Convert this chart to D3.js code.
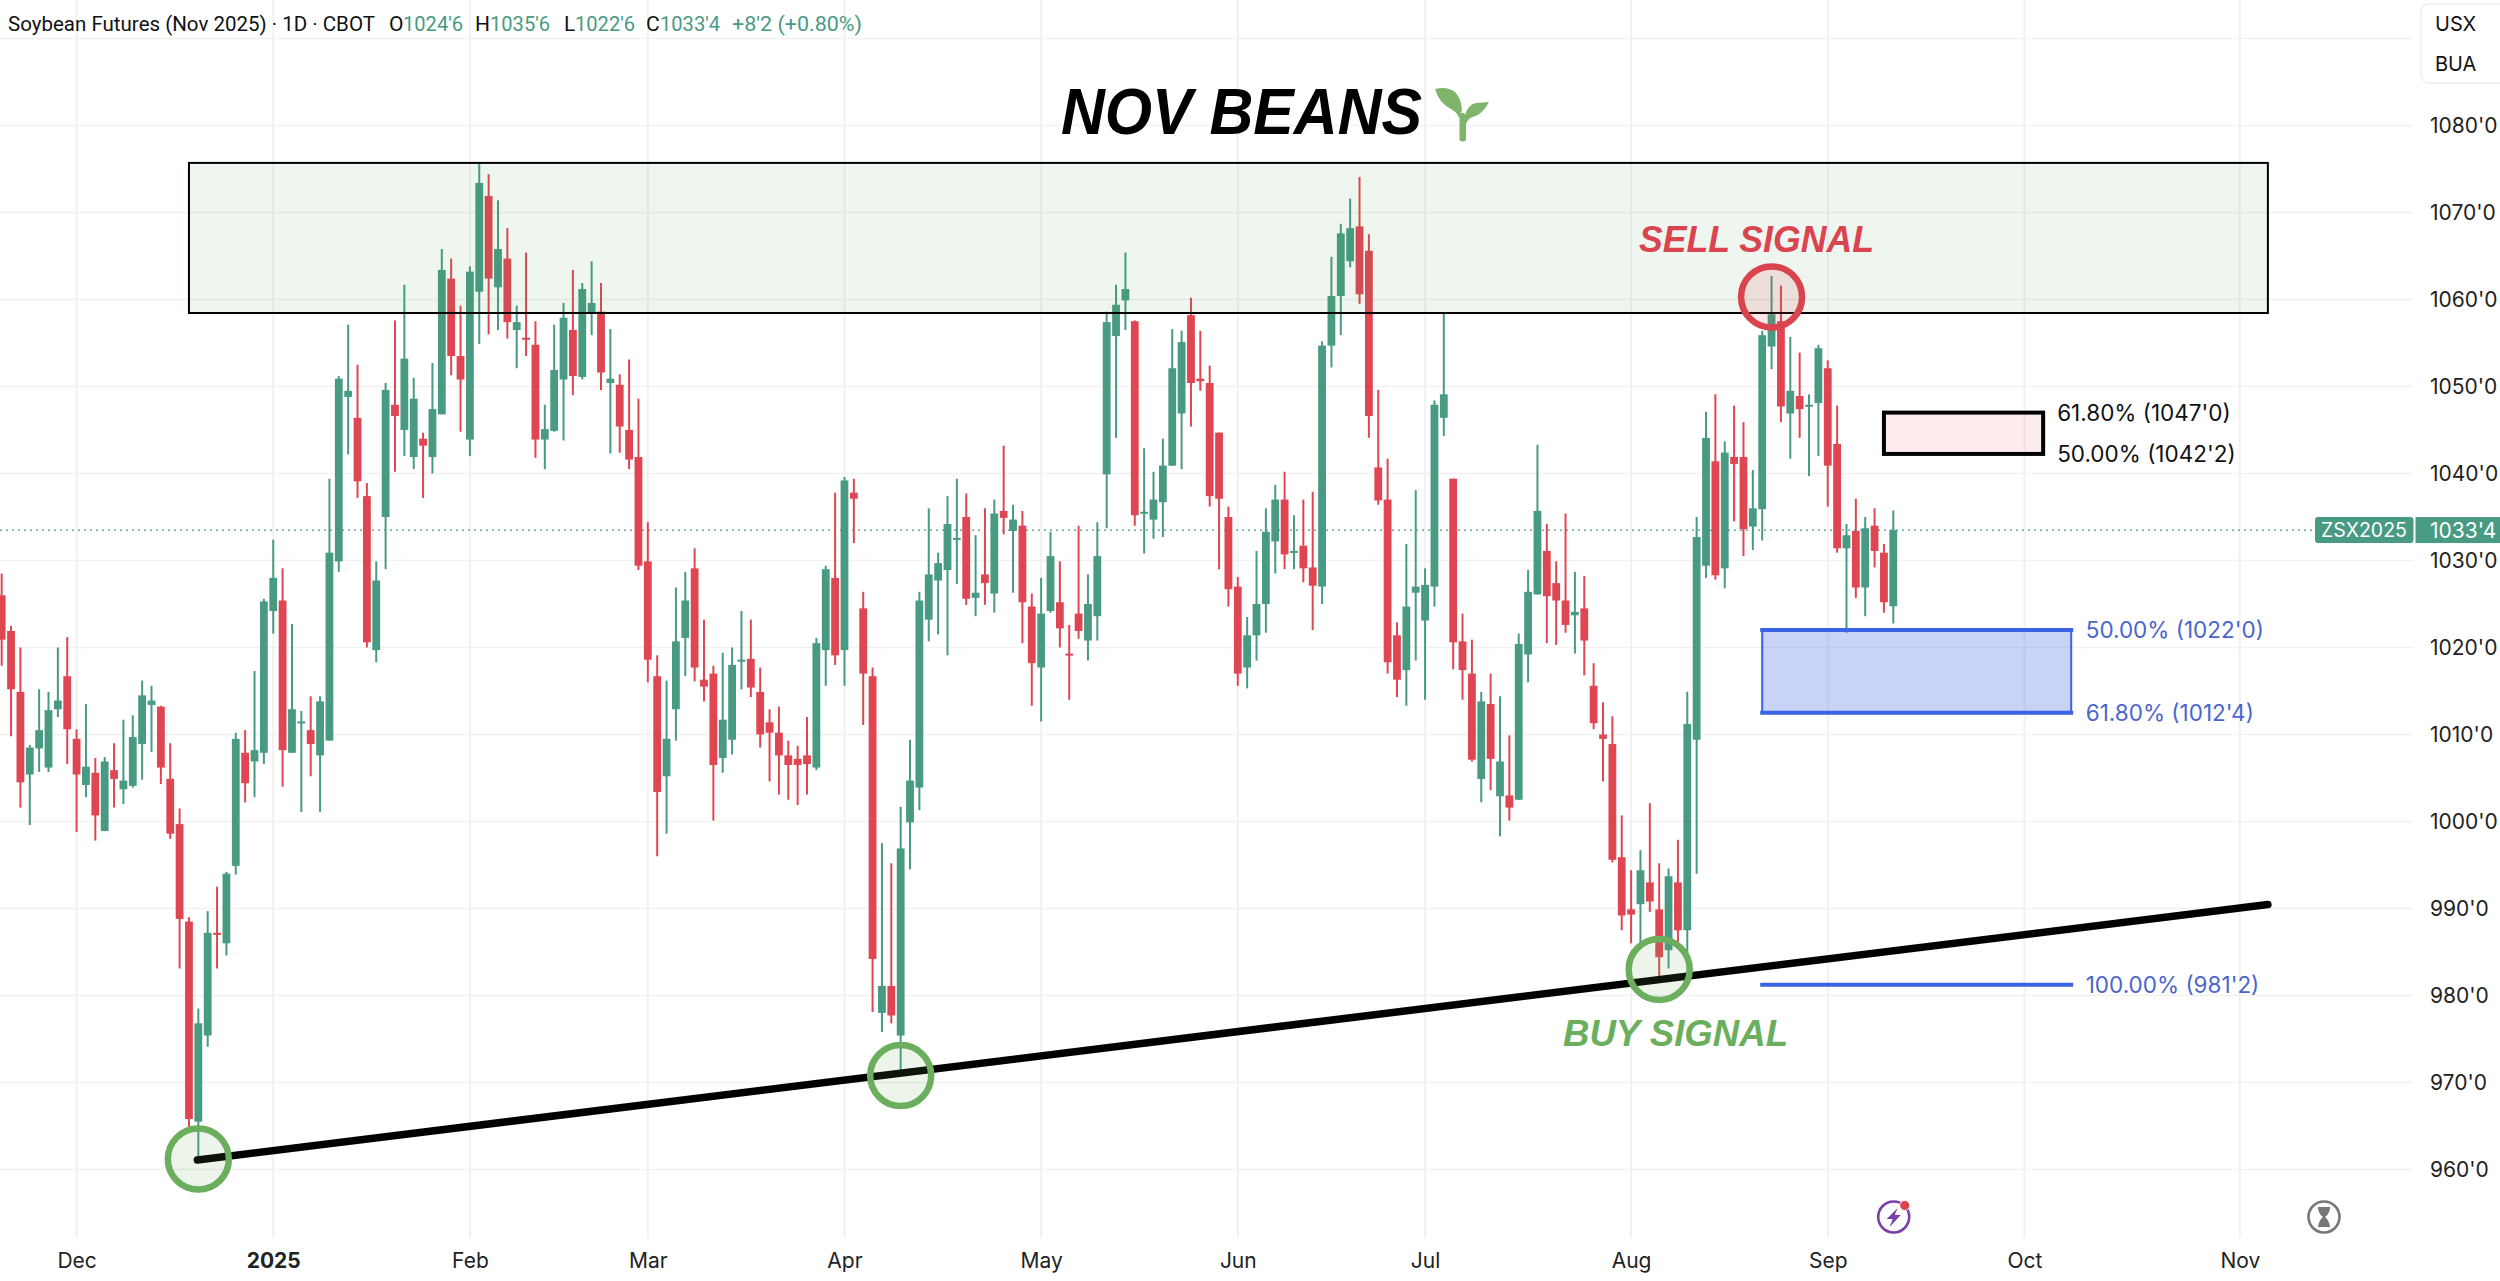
<!DOCTYPE html>
<html><head><meta charset="utf-8">
<script src="https://cdn.jsdelivr.net/npm/d3@7"></script>
<style>html,body{margin:0;padding:0;background:#fff}svg{display:block}text{font-family:Inter,"Noto Sans",sans-serif}</style>
</head><body><div id="chart"></div>
<script>
const highs=[1028.5,1022.5,1020.0,1008.8,1015.2,1014.9,1020.0,1021.2,1010.6,1013.5,
1007.3,1007.4,1009.0,1011.7,1012.2,1016.2,1015.6,1013.3,1009.0,1001.5,
989.0,978.5,989.7,992.5,994.2,1010.2,1010.5,1017.3,1025.6,1032.4,
1029.1,1022.7,1012.7,1014.4,1014.4,1039.4,1051.2,1057.1,1052.5,1038.9,
1029.9,1050.4,1057.6,1061.7,1051.0,1044.7,1052.7,1065.8,1064.7,1059.3,
1063.8,1075.6,1074.4,1071.4,1068.2,1059.3,1065.4,1057.5,1047.9,1057.1,
1059.6,1063.4,1061.9,1064.4,1061.9,1056.6,1051.4,1053.1,1048.6,1034.4,
1019.1,1016.2,1026.9,1028.7,1031.4,1023.2,1017.9,1019.4,1020.0,1024.2,
1023.2,1017.7,1012.9,1013.2,1009.3,1008.7,1012.0,1021.1,1029.4,1037.8,
1039.6,1039.4,1026.4,1017.7,997.5,995.2,1001.7,1009.4,1026.4,1036.0,
1030.9,1037.4,1039.4,1037.7,1032.9,1036.0,1037.0,1043.2,1036.4,1035.7,
1026.2,1028.0,1033.3,1029.9,1022.6,1034.0,1028.4,1034.4,1058.6,1061.7,
1065.4,1057.6,1042.9,1040.2,1044.0,1056.6,1056.4,1060.2,1056.4,1052.4,
1044.7,1036.2,1028.1,1023.5,1031.1,1036.0,1038.7,1040.2,1035.2,1037.0,
1037.9,1055.2,1064.9,1068.7,1071.6,1074.1,1067.5,1049.6,1041.7,1022.9,
1031.9,1038.1,1029.1,1048.4,1058.5,1039.4,1023.9,1020.9,1014.9,1017.0,
1014.4,1009.9,1021.6,1028.9,1043.3,1034.2,1029.9,1035.4,1028.7,1028.2,
1018.2,1013.7,1012.1,1000.7,994.4,996.7,1002.1,995.2,994.6,997.9,
1014.9,1035.0,1047.1,1049.1,1043.7,1047.8,1045.9,1040.4,1056.4,1062.7,
1061.6,1055.7,1053.9,1049.1,1054.8,1053.0,1047.8,1034.2,1037.1,1035.0,
1036.0,1031.9,1035.75];
const lows=[1017.9,1009.8,1001.6,999.6,1005.7,1005.7,1012.0,1006.6,998.8,1002.8,
997.8,998.9,1001.6,1002.0,1003.9,1004.8,1008.0,1004.3,998.0,983.1,
964.8,961.3,974.1,983.1,984.6,993.9,1002.2,1002.8,1006.6,1021.6,
1004.0,1007.9,1001.1,1005.2,1001.1,1009.3,1028.7,1042.2,1037.2,1020.0,
1018.3,1029.0,1040.2,1042.0,1040.5,1037.2,1040.0,1046.8,1051.3,1044.8,
1042.0,1054.9,1056.0,1056.5,1055.5,1052.1,1053.5,1041.8,1040.5,1044.8,
1043.8,1049.0,1050.8,1055.9,1049.6,1042.3,1042.4,1040.5,1028.9,1016.0,
996.0,998.6,1009.3,1016.7,1016.1,1013.8,1000.1,1005.6,1007.7,1015.2,
1014.3,1008.5,1004.6,1003.1,1002.5,1001.9,1003.1,1005.9,1015.6,1018.0,
1015.6,1032.0,1011.1,978.1,975.8,976.8,971.3,994.5,1001.3,1020.7,
1021.5,1019.1,1027.3,1024.9,1023.6,1024.9,1024.0,1033.0,1026.3,1020.5,
1013.3,1011.5,1024.0,1020.0,1014.0,1021.0,1018.5,1020.8,1033.7,1044.1,
1056.5,1034.0,1030.8,1032.5,1032.7,1040.9,1040.5,1045.4,1049.5,1036.2,
1029.0,1024.7,1015.6,1015.3,1018.5,1021.7,1028.5,1029.0,1029.0,1027.5,
1022.0,1025.0,1052.2,1055.9,1063.7,1059.5,1044.1,1036.4,1017.0,1014.3,
1013.3,1018.5,1014.0,1024.7,1044.3,1017.5,1014.0,1006.9,1002.2,1003.6,
998.3,1000.1,1002.5,1016.0,1026.1,1020.5,1020.3,1021.7,1019.3,1016.8,
1010.6,1004.6,995.3,987.5,986.0,986.1,989.6,981.5,983.1,986.1,
984.4,994.0,1028.0,1027.8,1026.8,1034.5,1030.5,1031.2,1032.3,1052.0,
1045.9,1041.7,1044.1,1039.7,1042.0,1036.2,1030.9,1021.7,1025.7,1023.6,
1029.2,1024.0,1022.75];
const opens=[1026.0,1021.9,1014.9,1005.4,1008.4,1006.2,1012.9,1016.7,1009.5,1004.2,
1005.6,998.9,1005.9,1003.7,1004.1,1008.9,1013.4,1013.2,1004.9,999.7,
988.5,965.5,975.4,987.2,986.0,994.9,1007.9,1006.9,1007.9,1024.2,
1025.4,1007.9,1011.4,1010.5,1007.6,1009.3,1029.9,1048.8,1046.4,1037.4,
1019.7,1035.0,1047.9,1045.0,1041.9,1044.0,1041.9,1046.8,1062.4,1053.5,
1043.9,1060.9,1071.9,1061.4,1064.7,1056.5,1055.6,1054.8,1043.9,1044.9,
1050.8,1056.5,1051.1,1058.5,1058.6,1050.4,1050.2,1045.0,1041.9,1029.9,
1016.7,1005.2,1012.9,1021.1,1029.1,1016.3,1017.0,1007.3,1009.4,1018.4,
1018.7,1014.9,1011.4,1010.2,1007.6,1007.2,1007.6,1006.2,1019.7,1028.0,
1019.7,1037.8,1024.5,1016.7,978.0,981.1,975.4,999.9,1003.9,1023.2,
1027.7,1028.9,1032.4,1035.0,1025.7,1028.4,1026.2,1035.7,1033.4,1034.0,
1024.7,1017.7,1024.2,1025.2,1019.3,1023.9,1020.8,1023.6,1039.9,1055.8,
1059.9,1057.5,1035.4,1034.7,1036.7,1040.9,1046.9,1058.2,1050.9,1050.4,
1044.7,1035.0,1027.0,1017.7,1021.4,1025.0,1032.2,1037.0,1031.0,1031.7,
1029.2,1027.0,1054.7,1060.4,1064.4,1068.4,1065.6,1040.7,1037.0,1021.4,
1017.4,1026.3,1023.1,1027.0,1046.4,1039.4,1020.7,1017.0,1004.9,1013.5,
1002.9,1003.0,1002.5,1019.2,1026.1,1031.1,1027.4,1025.4,1023.7,1024.5,
1015.6,1010.0,1008.9,995.9,989.9,990.5,993.0,989.9,985.2,993.0,
987.5,1009.4,1029.4,1041.4,1029.1,1041.9,1041.9,1033.9,1035.9,1054.6,
1057.5,1046.9,1048.9,1047.8,1048.1,1052.1,1043.4,1031.4,1033.4,1026.9,
1034.0,1030.9,1024.75];
const closes=[1020.9,1015.2,1004.5,1008.5,1010.5,1012.8,1013.9,1010.6,1005.4,1006.3,
1000.7,1006.9,1004.9,1004.7,1009.7,1014.5,1013.9,1006.2,998.6,988.8,
965.8,976.8,987.2,987.0,994.0,1009.5,1004.4,1008.2,1025.3,1028.0,
1008.2,1012.9,1011.5,1008.9,1013.8,1030.9,1050.9,1049.5,1039.1,1020.6,
1027.7,1049.6,1046.6,1053.2,1048.6,1043.2,1047.4,1063.4,1053.5,1050.8,
1063.2,1073.4,1062.4,1065.8,1057.4,1057.4,1055.5,1043.9,1045.1,1051.9,
1057.9,1051.2,1061.2,1059.6,1051.6,1050.9,1045.4,1041.6,1029.4,1018.6,
1003.4,1009.5,1020.7,1025.4,1017.7,1015.5,1006.5,1011.7,1018.0,1018.6,
1015.4,1010.0,1010.2,1007.6,1006.5,1006.5,1006.6,1020.5,1029.0,1019.1,
1039.2,1037.1,1017.0,984.2,981.1,977.7,996.9,1004.7,1025.4,1028.4,
1029.7,1034.2,1032.6,1025.6,1026.3,1027.4,1035.4,1034.9,1034.7,1025.2,
1018.2,1023.9,1030.5,1022.2,1019.2,1021.9,1025.0,1030.5,1057.4,1059.4,
1061.2,1035.2,1035.6,1037.0,1040.9,1052.1,1055.1,1050.4,1050.6,1037.4,
1037.1,1026.7,1017.0,1021.4,1025.0,1033.3,1037.0,1030.7,1031.1,1029.1,
1027.1,1054.7,1060.4,1067.6,1068.2,1060.6,1046.6,1036.9,1018.3,1016.3,
1024.7,1027.0,1027.2,1047.9,1049.1,1020.6,1017.4,1007.1,1013.8,1007.2,
1006.9,1001.6,1020.4,1026.4,1035.7,1025.9,1025.4,1022.6,1024.1,1020.8,
1011.3,1009.5,995.6,989.2,989.3,994.4,990.8,984.4,993.7,987.5,
1011.2,1032.7,1044.1,1028.3,1042.4,1041.1,1033.6,1036.0,1055.9,1058.3,
1047.7,1049.5,1047.4,1047.9,1054.4,1040.9,1031.4,1032.9,1026.9,1033.7,
1031.1,1025.2,1033.5];
const priceTicks=[1080,1070,1060,1050,1040,1030,1020,1010,1000,990,980,970,960];
const gridPrices=[1090,1080,1070,1060,1050,1040,1030,1020,1010,1000,990,980,970,960];
const monthBars=[8,29,50,69,90,111,132,152,174,195,216,239];
const monthLabels=["Dec","2025","Feb","Mar","Apr","May","Jun","Jul","Aug","Sep","Oct","Nov"];
const zoneBars=[20,242], zonePrices=[1075.7,1058.45];
const trendBars=[20.9,242], trendPrices=[961.1,990.45];
const signalBars=[21,96,177,189], signalPrices=[961.2,970.8,983,1060.3], signalKinds=["buy","buy","buy","sell"];
const lastPrice=1033.5, lastPriceLabel="1033'4", symbolLabel="ZSX2025";
const sellFibBars=[201,218], sellFibPrices=[1047,1042.25], sellFibLabels=["61.80% (1047'0)","50.00% (1042'2)"];
const buyFibBars=[188,221], buyFibPrices=[1022,1012.5,981.25], buyFibLabels=["50.00% (1022'0)","61.80% (1012'4)","100.00% (981'2)"];
const legendTexts=["Soybean Futures (Nov 2025) · 1D · CBOT","O","1024'6","H","1035'6","L","1022'6","C","1033'4","+8'2 (+0.80%)"];
const legendGreen=[false,false,true,false,true,false,true,false,true,true];

const W=2500,H=1281,paneR=2413.5,paneB=1238;
const legendX=[8,389,403,475,490,564,575,646,660,732];
const legendLen=[367,null,60,null,60,null,60,null,60,130];
const GREEN="#489a82",RED="#df4652",SIGG="#6aae5e",SIGR="#d9444f",BLUE="#3a62e2",BLUET="#4a66cc";
const svg=d3.select("#chart").append("svg").attr("width",W).attr("height",H).attr("viewBox",[0,0,W,H]);
svg.append("rect").attr("width",W).attr("height",H).attr("fill","#fff");
const x=d3.scaleLinear().domain([0,202]).range([1.67,1893.3]);
const y=d3.scaleLinear().domain([960,1080]).range([1169.5,125.5]);

const grid=svg.append("g");
grid.selectAll("line.h").data(gridPrices).join("line").attr("class","h")
 .attr("x1",0).attr("x2",paneR).attr("y1",d=>y(d)).attr("y2",d=>y(d)).attr("stroke","#f1f1f1").attr("stroke-width",1.5);
grid.selectAll("line.v").data(monthBars).join("line").attr("class","v")
 .attr("x1",d=>x(d)).attr("x2",d=>x(d)).attr("y1",0).attr("y2",paneB).attr("stroke","#f1f1f1").attr("stroke-width",2);

svg.append("line").attr("x1",0).attr("x2",2315).attr("y1",y(lastPrice)).attr("y2",y(lastPrice))
 .attr("stroke",GREEN).attr("stroke-width",1.2).attr("stroke-dasharray","2 4");

const idx=d3.range(closes.length);
const col=i=>closes[i]>=opens[i]?GREEN:RED;
const cg=svg.append("g");
cg.selectAll("line").data(idx).join("line").attr("x1",i=>x(i)).attr("x2",i=>x(i))
 .attr("y1",i=>y(highs[i])).attr("y2",i=>y(lows[i])).attr("stroke",col).attr("stroke-width",2);
cg.selectAll("rect").data(idx).join("rect").attr("x",i=>x(i)-3.9).attr("width",7.8)
 .attr("y",i=>y(Math.max(opens[i],closes[i])))
 .attr("height",i=>Math.max(2,Math.abs(y(opens[i])-y(closes[i])))).attr("fill",col);

svg.append("rect").attr("x",x(zoneBars[0])).attr("y",y(zonePrices[0]))
 .attr("width",x(zoneBars[1])-x(zoneBars[0])).attr("height",y(zonePrices[1])-y(zonePrices[0]))
 .attr("fill","rgba(76,160,80,0.09)").attr("stroke","#000").attr("stroke-width",2);

svg.append("rect").attr("x",x(sellFibBars[0])).attr("y",y(sellFibPrices[0]))
 .attr("width",x(sellFibBars[1])-x(sellFibBars[0])).attr("height",y(sellFibPrices[1])-y(sellFibPrices[0]))
 .attr("fill","rgba(224,69,82,0.1)").attr("stroke","#000").attr("stroke-width",4);
svg.selectAll("text.sf").data(sellFibLabels).join("text").attr("class","sf")
 .attr("x",x(sellFibBars[1])+14).attr("y",(d,i)=>y(sellFibPrices[i])).attr("dy","0.36em")
 .attr("font-size",22.5).attr("fill","#111").text(d=>d);

svg.append("rect").attr("x",x(buyFibBars[0])).attr("y",y(buyFibPrices[0]))
 .attr("width",x(buyFibBars[1])-x(buyFibBars[0])).attr("height",y(buyFibPrices[1])-y(buyFibPrices[0]))
 .attr("fill","rgba(58,98,226,0.28)").attr("stroke",BLUE).attr("stroke-width",2);
svg.selectAll("line.bf").data(buyFibPrices).join("line").attr("class","bf")
 .attr("x1",x(buyFibBars[0])-2).attr("x2",x(buyFibBars[1])+2).attr("y1",d=>y(d)).attr("y2",d=>y(d))
 .attr("stroke",BLUE).attr("stroke-width",4);
svg.selectAll("text.bf").data(buyFibLabels).join("text").attr("class","bf")
 .attr("x",x(buyFibBars[1])+14.5).attr("y",(d,i)=>y(buyFibPrices[i])).attr("dy","0.36em")
 .attr("font-size",22.5).attr("fill",BLUET).text(d=>d);

svg.append("path").datum(trendBars.map((b,i)=>[b,trendPrices[i]]))
 .attr("d",d3.line().x(d=>x(d[0])).y(d=>y(d[1]))).attr("fill","none").attr("stroke","#000")
 .attr("stroke-width",7.5).attr("stroke-linecap","round");

svg.selectAll("circle.sig").data(signalBars).join("circle").attr("class","sig")
 .attr("cx",d=>x(d)).attr("cy",(d,i)=>y(signalPrices[i])).attr("r",30.5)
 .attr("fill",(d,i)=>signalKinds[i]==="buy"?"rgba(106,174,94,0.12)":"rgba(217,68,79,0.13)")
 .attr("stroke",(d,i)=>signalKinds[i]==="buy"?SIGG:SIGR).attr("stroke-width",6.5);

const bi=(t,px,py,fs,fill,len)=>svg.append("text").attr("x",px).attr("y",py).attr("font-size",fs)
 .attr("font-weight",700).attr("font-style","italic").attr("fill",fill)
 .attr("textLength",len).attr("lengthAdjust","spacingAndGlyphs")
 .style("font-family","'Liberation Sans',Arial,sans-serif").text(t);
bi("NOV BEANS",1061,134,64,"#000",361);
bi("SELL SIGNAL",1639,252,37,SIGR,235);
bi("BUY SIGNAL",1563,1046,37,SIGG,225);

const sp=svg.append("g").attr("transform","translate(1435,88)").attr("fill","#7fb56a");
sp.append("path").attr("d","M0 1 Q12 -2 20 4 Q26 10 27 22 L24 30 Q22 24 16 21 Q4 15 0 1 Z");
sp.append("path").attr("d","M24.5 28 Q26 22 31 27 L31 51 Q31 53.5 27.7 53.5 Q24.5 53.5 24.5 51 Z");
sp.append("path").attr("d","M54 14 Q47 27 38 29 Q33 30 31 36 L30 28 Q32 17 41 15 Z");

const yAxis=d3.axisRight(y).tickValues(priceTicks).tickSize(0).tickPadding(0).tickFormat(d=>d+"'0");
const ya=svg.append("g").attr("transform","translate(2430,0)").call(yAxis);
ya.select(".domain").remove();
ya.selectAll("text").attr("font-size",21).attr("fill","#222").style("font-family","Inter,sans-serif");

const xAxis=d3.axisBottom(x).tickValues(monthBars).tickSize(0).tickPadding(0).tickFormat((d,i)=>monthLabels[i]);
const xa=svg.append("g").attr("transform","translate(0,1253)").call(xAxis);
xa.select(".domain").remove();
xa.selectAll("text").attr("font-size",21).attr("fill","#222").style("font-family","Inter,sans-serif")
 .attr("font-weight",(d,i)=>monthLabels[i]==="2025"?700:400);

const ly=y(lastPrice);
svg.append("rect").attr("x",2315).attr("y",ly-13).attr("width",98.5).attr("height",26).attr("rx",3).attr("fill",GREEN);
svg.append("rect").attr("x",2415.5).attr("y",ly-13).attr("width",84.5).attr("height",26).attr("fill",GREEN);
svg.append("text").attr("x",2364).attr("y",ly).attr("dy","0.36em").attr("text-anchor","middle").attr("font-size",19.5).attr("fill","#fff").text(symbolLabel);
svg.append("text").attr("x",2430).attr("y",ly).attr("dy","0.36em").attr("font-size",21).attr("fill","#fff").text(lastPriceLabel);

svg.selectAll("text.lg").data(legendTexts).join("text").attr("class","lg")
 .attr("x",(d,i)=>legendX[i]).attr("y",31).attr("font-size",21).style("font-family","Roboto,sans-serif")
 .attr("fill",(d,i)=>legendGreen[i]?GREEN:"#111")
 .each(function(d,i){ if(legendLen[i]) d3.select(this).attr("textLength",legendLen[i]).attr("lengthAdjust","spacingAndGlyphs"); })
 .text(d=>d);

svg.append("rect").attr("x",2421).attr("y",4).attr("width",100).attr("height",79).attr("rx",8).attr("fill","#fff").attr("stroke","#eeeeee").attr("stroke-width",1.5);
svg.append("text").attr("x",2435).attr("y",31).attr("font-size",20).attr("fill","#111").text("USX");
svg.append("text").attr("x",2435).attr("y",71).attr("font-size",20).attr("fill","#111").text("BUA");

const ic=svg.append("g").attr("transform","translate(1893.7,1217)");
ic.append("circle").attr("r",15.5).attr("fill","none").attr("stroke","#7b3fa8").attr("stroke-width",2.6);
ic.append("path").attr("d","M4 -9 L-7 2 L-1 2 L-4 10 L7 -2 L1 -2 Z").attr("fill","#7b3fa8");
ic.append("circle").attr("cx",11).attr("cy",-11.5).attr("r",5).attr("fill","#d9444f").attr("stroke","#fff").attr("stroke-width",1);
const hg=svg.append("g").attr("transform","translate(2324,1217)");
hg.append("circle").attr("r",15.5).attr("fill","none").attr("stroke","#777").attr("stroke-width",2.6);
hg.append("path").attr("d","M-6 -10 H6 V-8 Q5 -3 1 0 Q5 3 6 10 H-6 Q-5 3 -1 0 Q-5 -3 -6 -8 Z").attr("fill","#777");
</script></body></html>
